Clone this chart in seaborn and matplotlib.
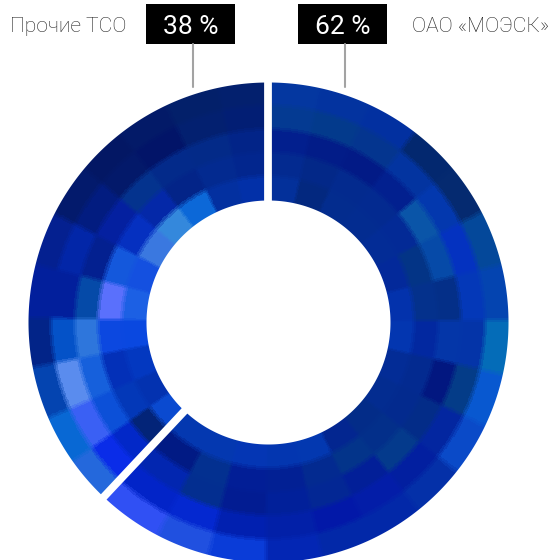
"""Donut chart of network company shares with a mosaic blue fill."""

from __future__ import annotations

import matplotlib
import numpy as np
import seaborn as sns

matplotlib.use("Agg")
import matplotlib.pyplot as plt
from matplotlib.lines import Line2D
from matplotlib.patches import Rectangle

WIDTH, HEIGHT = 550, 560
CENTER_X, CENTER_Y, OUTER_R = 268, 322, 240

labels = ["ОАО «МОЭСК»", "Прочие ТСО"]
shares = [62, 38]

# cell edges, degrees clockwise from the top, and ring edges in pixels
theta_edges = [0, 12.6, 25.2, 37.8, 50.3, 62.8, 76.2, 89.5, 102.6, 115.7, 128.5, 141.4,
               154.3, 167, 180.5, 194.5, 207.5, 223.2, 234.6, 246.5, 259.2, 271, 284,
               297, 310, 322, 335, 348, 360]
ring_edges = [122, 146, 170, 193, 217, 240]

# colours per cell, clockwise from the top, inner ring first
ring_1 = ["#03309a", "#03287f", "#032c8e", "#032c90", "#032c96", "#03299a", "#0332ac",
          "#0336b0", "#032c96", "#032c90", "#032c88", "#032690", "#0338b0", "#0336b0",
          "#0436b4", "#0438b0", "#0438b0",
          "#0a4ad0", "#0332b0", "#0338c0", "#0a48e0", "#1c60e4", "#1450e0", "#3a78e0",
          "#3488dc", "#0c68d8", "#0330a0", "#0230a8"]
ring_2 = ["#032a90", "#032888", "#032a8e", "#032a90", "#032a96", "#033486", "#04318c",
          "#0228a0", "#032a90", "#032a8e", "#032f8a", "#03348a", "#032a90", "#022094",
          "#021e96", "#033090", "#011a84",
          "#032478", "#0338b8", "#0330b8", "#0c48e0", "#5a70fc", "#1458dc", "#0530c0",
          "#0428a8", "#032488", "#032a90", "#02268e"]
ring_3 = ["#021f8e", "#021c88", "#021a86", "#02208f", "#0a55a8", "#064aa8", "#042f88",
          "#0436a8", "#021780", "#032c88", "#043a8c", "#021f98", "#032794", "#01209a",
          "#021c92", "#032e90", "#0226b0",
          "#0228c8", "#0c50d8", "#1660dc", "#2e76dc", "#054aa8", "#032090", "#0420a0",
          "#04338e", "#032a8a", "#032a88", "#022488"]
ring_4 = ["#043a92", "#033a8c", "#04358f", "#0334a0", "#0338ae", "#0432c0", "#0438b8",
          "#0434a8", "#043c88", "#0326a0", "#021fa0", "#031da8", "#0218a8", "#0220a8",
          "#0120b0", "#0428d0", "#0224c8",
          "#0a2ce8", "#3a60f4", "#5a8cee", "#0452c8", "#021f9c", "#0226a8", "#021c80",
          "#03196a", "#021468", "#032070", "#021e74"]
ring_5 = ["#0437a0", "#03339f", "#0230a0", "#03286f", "#052a70", "#04489a", "#0444b0",
          "#046cb8", "#0858d0", "#0a4ac8", "#0430a8", "#0228a8", "#0228a8", "#0326b4",
          "#0a3cd8", "#2050e0", "#3050f4",
          "#2468dc", "#0868d4", "#0444b0", "#022488", "#021f9c", "#042090", "#031a6c",
          "#031764", "#031a68", "#03206a", "#03206e"]


def fx(x: float) -> float:
    """Convert a pixel column to figure coordinates."""
    return x / WIDTH


def fy(y: float) -> float:
    """Convert a pixel row, counted from the top, to figure coordinates."""
    return 1 - y / HEIGHT


def refine_edges(edges: list[float], steps: int) -> np.ndarray:
    """Split every interval of a list of edges into equal steps."""
    fine = [np.linspace(a, b, steps, endpoint=False) for a, b in zip(edges[:-1], edges[1:])]
    return np.append(np.concatenate(fine), edges[-1])


def soften(colors: np.ndarray, axis: int) -> np.ndarray:
    """Average neighbouring steps so the cell borders look slightly blurred."""
    pad = [(1, 1) if i == axis else (0, 0) for i in range(colors.ndim)]
    padded = np.pad(colors, pad, mode="edge")
    return (
        np.take(padded, range(0, padded.shape[axis] - 2), axis=axis)
        + np.take(padded, range(1, padded.shape[axis] - 1), axis=axis)
        + np.take(padded, range(2, padded.shape[axis]), axis=axis)
    ) / 3


def draw_mosaic(ax) -> None:
    """Draw the mosaic ring and the white gaps between the two shares."""
    rings = [ring_1, ring_2, ring_3, ring_4, ring_5]
    colors = np.array([sns.color_palette(ring) for ring in rings])

    # fine mesh keeps the rim round in polar space and allows the soft borders
    theta_steps, r_steps = 24, 12
    fine_theta = np.deg2rad(refine_edges(theta_edges, theta_steps))
    fine_r = refine_edges(ring_edges, r_steps)
    fine_r[0] -= 1.5
    fine_r[-1] += 1.5
    fine_colors = np.repeat(np.repeat(colors, theta_steps, axis=1), r_steps, axis=0)
    fine_colors = soften(soften(fine_colors, 1), 0)

    grid_theta, grid_r = np.meshgrid(fine_theta, fine_r)
    ax.pcolormesh(grid_theta, grid_r, fine_colors, clip_on=False)

    # white rims hide the aliased edge of the mesh
    circle = np.linspace(0, 2 * np.pi, 721)
    ax.fill_between(circle, ring_edges[0] - 10, ring_edges[0], color="white", lw=0, clip_on=False)
    ax.fill_between(circle, OUTER_R, OUTER_R + 10, color="white", lw=0, clip_on=False)

    split = np.deg2rad(360 * shares[0] / sum(shares))
    for theta in (0, split):
        ax.plot([theta, theta], [ring_edges[0] - 8, OUTER_R + 4], color="white", lw=5.6,
                solid_capstyle="butt", clip_on=False)

    ax.set_theta_zero_location("N")
    ax.set_theta_direction(-1)
    ax.set_ylim(0, OUTER_R)
    ax.set_axis_off()


def draw_header(fig) -> None:
    """Draw the share boxes, their leader lines and the company names."""
    boxes = [(298, 387, 345), (146, 235, 193)]
    for (left, right, line_x), share in zip(boxes, shares):
        fig.add_artist(Line2D([fx(line_x)] * 2, [fy(44), fy(87)], color="#a3a3a3", lw=1.5))
        fig.add_artist(Rectangle((fx(left), fy(44)), fx(right - left), 40 / HEIGHT,
                                 color="black", lw=0))
        fig.text(fx((left + right) / 2), fy(25), f"{share} %", color="white",
                 fontsize=19, ha="center", va="center_baseline")

    fig.text(fx(412), fy(25), labels[0], color="#222222", fontsize=15.2, fontweight="light",
             ha="left", va="center_baseline")
    fig.text(fx(10), fy(25), labels[1], color="#222222", fontsize=15.2, fontweight="light",
             ha="left", va="center_baseline")


def main() -> None:
    sns.set_theme(style="white")
    plt.rcParams["font.family"] = ["Roboto", "DejaVu Sans"]

    fig = plt.figure(figsize=(WIDTH / 100, HEIGHT / 100), dpi=100)
    size = 2 * OUTER_R
    rect = [fx(CENTER_X - OUTER_R), fy(CENTER_Y + OUTER_R), size / WIDTH, size / HEIGHT]
    ax = fig.add_axes(rect, projection="polar")
    draw_mosaic(ax)
    draw_header(fig)
    fig.savefig("out.png", dpi=100)
    plt.close(fig)


if __name__ == "__main__":
    main()
